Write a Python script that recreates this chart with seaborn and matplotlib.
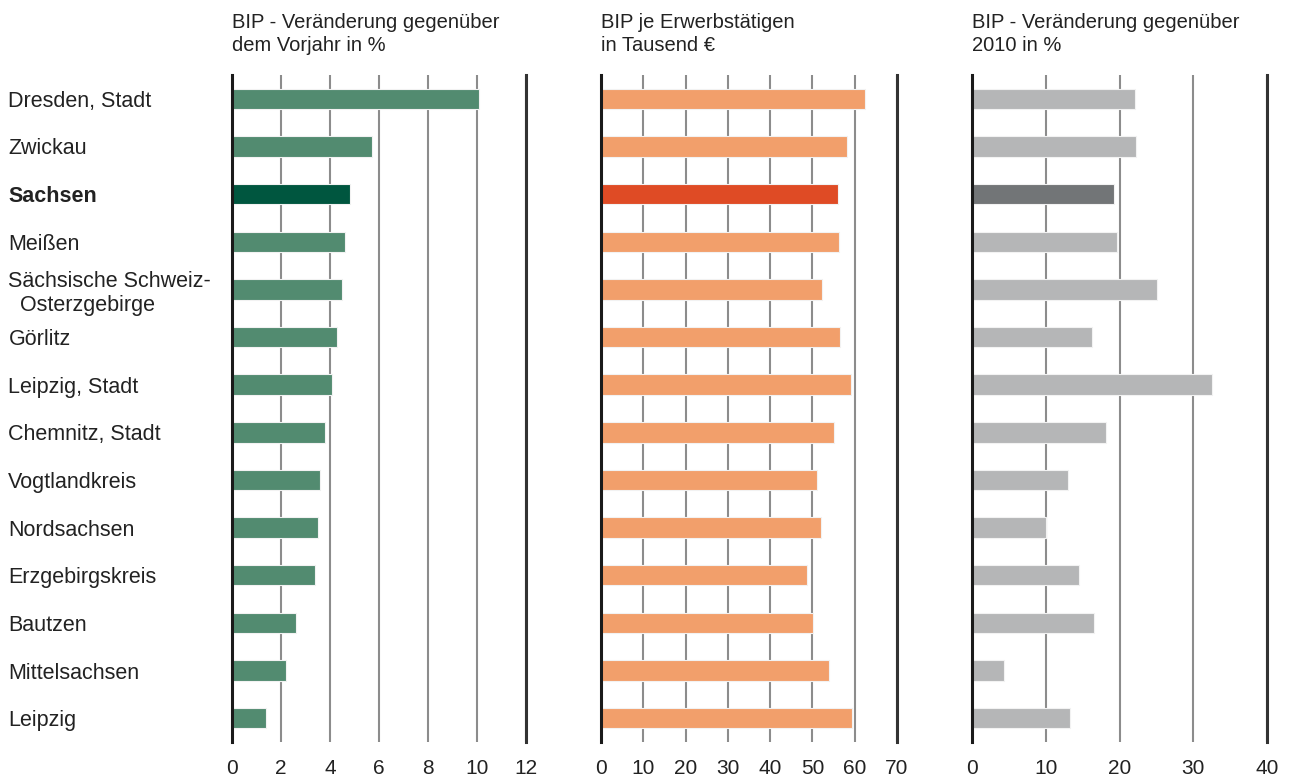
import matplotlib
matplotlib.use("Agg")
import matplotlib.pyplot as plt
import seaborn as sns
import pandas as pd

# Kreise Sachsen, sortiert nach BIP-Veraenderung zum Vorjahr
regions = ["Dresden, Stadt", "Zwickau", "Sachsen", "Meißen",
           "Sächsische Schweiz-\n  Osterzgebirge", "Görlitz", "Leipzig, Stadt",
           "Chemnitz, Stadt", "Vogtlandkreis", "Nordsachsen", "Erzgebirgskreis",
           "Bautzen", "Mittelsachsen", "Leipzig"]

bip_vorjahr = [10.1, 5.7, 4.8, 4.6, 4.5, 4.3, 4.1, 3.8, 3.6, 3.5, 3.4, 2.6, 2.2, 1.4]
bip_je_erw = [62.4, 58.2, 56.1, 56.3, 52.3, 56.5, 59.1, 55.1, 51.1, 52.0, 48.7, 50.1, 54.0, 59.4]
bip_2010 = [22.1, 22.3, 19.3, 19.7, 25.1, 16.3, 32.5, 18.2, 13.0, 10.0, 14.5, 16.5, 4.4, 13.3]

titles = ["BIP - Veränderung gegenüber\ndem Vorjahr in %",
          "BIP je Erwerbstätigen\nin Tausend €",
          "BIP - Veränderung gegenüber\n2010 in %"]
xmax = [12, 70, 40]
xstep = [2, 10, 10]
colors = [("#528b70", "#00563f"), ("#f29f6b", "#df4b25"), ("#b5b6b7", "#727577")]

df = pd.DataFrame({"region": regions, "v1": bip_vorjahr, "v2": bip_je_erw, "v3": bip_2010})

sns.set_theme(style="white")
plt.rcParams["font.family"] = ["Liberation Sans", "DejaVu Sans"]
plt.rcParams["text.color"] = "#222222"
plt.rcParams["xtick.color"] = "#222222"
plt.rcParams["ytick.color"] = "#222222"

fig = plt.figure(figsize=(12.93, 7.81), dpi=100)
lefts = [232, 601, 972]
widths = [294, 296, 295]
axes = [fig.add_axes([l / 1293, 1 - 742 / 781, w / 1293, 667 / 781]) for l, w in zip(lefts, widths)]

for i, ax in enumerate(axes):
    col = "v%d" % (i + 1)
    pal = {r: (colors[i][1] if r == "Sachsen" else colors[i][0]) for r in regions}
    sns.barplot(data=df, x=col, y="region", hue="region", palette=pal, legend=False,
                width=0.43, edgecolor="#f2f2f2", linewidth=0.8, saturation=1, ax=ax, zorder=3)
    ax.set_xlim(0, xmax[i])
    ax.set_ylim(13.5, -0.5)
    ax.set_xticks(range(0, xmax[i] + 1, xstep[i]))
    ax.grid(axis="x", color="#8c8c8c", linewidth=1.5, zorder=0)
    ax.grid(axis="y", visible=False)
    ax.set_axisbelow(True)
    for s in ["top", "bottom"]:
        ax.spines[s].set_visible(False)
    ax.spines["left"].set_color("#1a1a1a")
    ax.spines["left"].set_linewidth(2.2)
    ax.spines["right"].set_color("#333333")
    ax.spines["right"].set_linewidth(2.2)
    ax.spines["left"].set_zorder(5)
    ax.tick_params(axis="x", length=0, pad=12, labelsize=15)
    ax.set_xlabel("")
    ax.set_ylabel("")
    ax.text(0, 1 + 62 / 667, titles[i], transform=ax.transAxes, ha="left", va="top",
            fontsize=14.5, linespacing=1.25)
    if i == 0:
        ax.tick_params(axis="y", length=0, pad=161, labelsize=15.5)
        for lab in ax.get_yticklabels():
            lab.set_horizontalalignment("left")
            lab.set_multialignment("left")
            if lab.get_text() == "Sachsen":
                lab.set_fontweight("bold")
    else:
        ax.set_yticks([])

fig.savefig("out.png", dpi=100)
